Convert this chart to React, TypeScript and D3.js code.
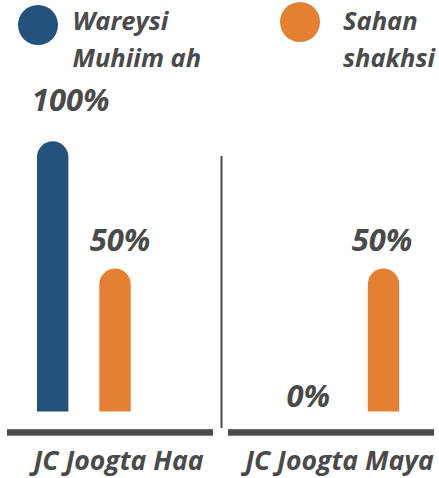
import React from "react";
import * as d3 from "d3";

const categories = ["JC Joogta Haa", "JC Joogta Maya"];
const seriesNames = ["Wareysi Muhiim ah", "Sahan shakhsi"];
const legendLines = [["Wareysi", "Muhiim ah"], ["Sahan", "shakhsi"]];
const wareysiValues = [100, 0];
const sahanValues = [50, 50];
const valueLabels = [["100%", "0%"], ["50%", "50%"]];

const W = 439;
const H = 478;
const colors = ["#24527D", "#E58033"];
const textColor = "#4a4a4a";
const font = "'Open Sans', sans-serif";

// layout
const bottom = 411.5;
const barBodyMax = 254.5;
const barW = 31.4;
const groupShift = [45.7, 93.2];
const labelNudge = [
  [[18, -12], [-13, 13]],
  [[5, 0], [-1.5, 0]],
];

export default function App() {
  const xGroup = d3.scaleBand<string>().domain(categories).range([7, 434]).paddingInner(0.068).paddingOuter(0);
  const xInner = d3.scalePoint<string>().domain(seriesNames).range([0, 62.3]);
  const y = d3.scaleLinear().domain([0, 100]).range([bottom, bottom - barBodyMax]);
  const r = barW / 2;
  const series = [wareysiValues, sahanValues];

  const bars: React.ReactNode[] = [];
  const labels: React.ReactNode[] = [];
  series.forEach((vals, si) => {
    vals.forEach((v, ci) => {
      const cx = (xGroup(categories[ci]) as number) + groupShift[ci] + (xInner(seriesNames[si]) as number);
      const yt = y(v);
      if (v > 0) {
        const p = d3.path();
        p.moveTo(cx - r, bottom);
        p.lineTo(cx - r, yt);
        p.arc(cx, yt, r, Math.PI, 0);
        p.lineTo(cx + r, bottom);
        p.closePath();
        bars.push(<path key={`b${si}${ci}`} d={p.toString()} fill={colors[si]} />);
      }
      const top = v > 0 ? yt - r : bottom;
      const [dx, dy] = labelNudge[si][ci];
      labels.push(
        <text
          key={`l${si}${ci}`}
          x={cx + dx}
          y={top - 18 + dy}
          textAnchor="middle"
          fontFamily={font}
          fontWeight={700}
          fontStyle="italic"
          fontSize={31}
          fill={textColor}
        >
          {valueLabels[si][ci]}
        </text>
      );
    });
  });

  const legendX = [38, 300];
  const legendY = [25, 22];
  const legendTextX = [72.5, 343];

  return (
    <div style={{ position: "absolute", left: 0, top: 0 }}>
      <svg width={W} height={H} style={{ display: "block" }}>
        <rect width={W} height={H} fill="#fff" />
        {seriesNames.map((s, i) => (
          <g key={s}>
            <circle cx={legendX[i]} cy={legendY[i]} r={20} fill={colors[i]} />
            {legendLines[i].map((ln, j) => (
              <text
                key={ln}
                x={legendTextX[i]}
                y={29.5 + j * 37.4}
                fontFamily={font}
                fontWeight={700}
                fontStyle="italic"
                fontSize={25.5}
                fill={textColor}
              >
                {ln}
              </text>
            ))}
          </g>
        ))}
        {bars}
        {labels}
        <line x1={221.5} x2={221.5} y1={156} y2={428} stroke={textColor} strokeWidth={2} />
        {categories.map((c) => {
          const x0 = xGroup(c) as number;
          const bw = xGroup.bandwidth();
          return (
            <g key={c}>
              <rect x={x0} y={429.2} width={bw} height={6.5} fill={textColor} />
              <text
                x={x0 + bw / 2 + 8.5}
                y={470}
                textAnchor="middle"
                fontFamily={font}
                fontWeight={700}
                fontStyle="italic"
                fontSize={26.6}
                fill={textColor}
              >
                {c}
              </text>
            </g>
          );
        })}
      </svg>
    </div>
  );
}
